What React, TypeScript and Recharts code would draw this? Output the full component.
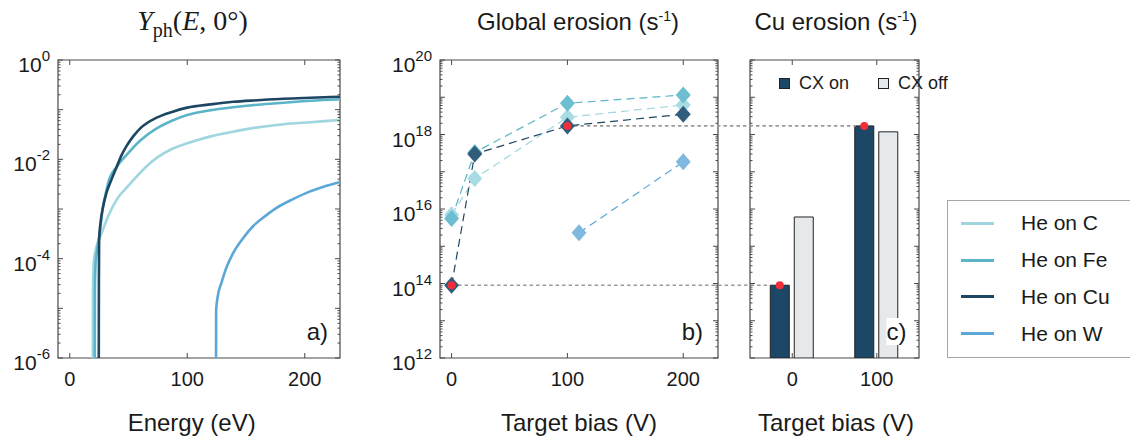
import React from 'react';
import {
  LineChart,
  Line,
  XAxis,
  YAxis,
  ReferenceArea,
  ReferenceLine,
  Legend,
  BarChart,
  Bar,
} from 'recharts';

const SANS = '"Liberation Sans", Arial, Helvetica, sans-serif';
const SERIF = '"Liberation Serif", "Times New Roman", serif';
const AXIS = '#4a4a4a';
const INK = '#1a1a1a';
const RED = '#ee2f38';
const LINK = '#9a9a9a';

// series
const seriesNames = ['He on C', 'He on Fe', 'He on Cu', 'He on W'];
const seriesColors = ['#9fd6e0', '#5cb4c9', '#1d4663', '#5aa7d8'];
const diamondColors = ['#a8dce5', '#6cbed0', '#2f5d7b', '#80b8e0'];

// a) Y_ph(E, 0°) vs energy (eV)
const yieldC = [
  { e: 19.6, y: 1e-6 }, { e: 19.8, y: 2.5e-5 }, { e: 20.5, y: 8.9e-5 }, { e: 22.7, y: 1.74e-4 },
  { e: 27, y: 3.2e-4 }, { e: 32.6, y: 7.1e-4 }, { e: 39.7, y: 1.51e-3 }, { e: 48, y: 2.63e-3 },
  { e: 55, y: 4.0e-3 }, { e: 65, y: 7.1e-3 }, { e: 74, y: 1.07e-2 }, { e: 86, y: 1.58e-2 },
  { e: 100, y: 2.1e-2 }, { e: 120, y: 2.9e-2 }, { e: 139, y: 3.6e-2 }, { e: 160, y: 4.4e-2 },
  { e: 182, y: 5.1e-2 }, { e: 205, y: 5.6e-2 }, { e: 230, y: 6.2e-2 },
];
const yieldFe = [
  { e: 21.3, y: 1e-6 }, { e: 21.4, y: 2.5e-5 }, { e: 22, y: 7.9e-5 }, { e: 23.5, y: 1.58e-4 },
  { e: 25.5, y: 3.2e-4 }, { e: 28, y: 1e-3 }, { e: 30.5, y: 2.0e-3 }, { e: 33.5, y: 3.9e-3 },
  { e: 40, y: 7.1e-3 }, { e: 48, y: 1.2e-2 }, { e: 60, y: 2.4e-2 }, { e: 74, y: 4.2e-2 },
  { e: 87, y: 6.0e-2 }, { e: 100, y: 7.8e-2 }, { e: 120, y: 9.8e-2 }, { e: 139, y: 0.112 },
  { e: 160, y: 0.126 }, { e: 182, y: 0.138 }, { e: 205, y: 0.151 }, { e: 230, y: 0.162 },
];
const yieldCu = [
  { e: 24.7, y: 1e-6 }, { e: 24.8, y: 3.2e-5 }, { e: 25, y: 2.5e-4 }, { e: 26.1, y: 5.1e-4 },
  { e: 28.4, y: 1.12e-3 }, { e: 31.2, y: 2.1e-3 }, { e: 35.5, y: 3.9e-3 }, { e: 40, y: 7.1e-3 },
  { e: 44, y: 1.2e-2 }, { e: 48, y: 1.8e-2 }, { e: 54, y: 2.9e-2 }, { e: 60, y: 4.2e-2 },
  { e: 74, y: 6.9e-2 }, { e: 87, y: 9.0e-2 }, { e: 100, y: 0.11 }, { e: 120, y: 0.128 },
  { e: 139, y: 0.144 }, { e: 160, y: 0.155 }, { e: 182, y: 0.166 }, { e: 205, y: 0.174 },
  { e: 230, y: 0.182 },
];
const yieldW = [
  { e: 124.5, y: 1e-6 }, { e: 124.6, y: 9.3e-6 }, { e: 126, y: 1.78e-5 }, { e: 129, y: 3.2e-5 },
  { e: 133, y: 6.3e-5 }, { e: 139, y: 1.29e-4 }, { e: 147, y: 2.5e-4 }, { e: 156, y: 4.5e-4 },
  { e: 166, y: 7.1e-4 }, { e: 176, y: 1.05e-3 }, { e: 190, y: 1.58e-3 }, { e: 204, y: 2.24e-3 },
  { e: 216, y: 2.8e-3 }, { e: 230, y: 3.5e-3 },
];
const yieldSeries = [yieldC, yieldFe, yieldCu, yieldW];

// b) global erosion (s^-1) vs target bias (V)
const biasC = [{ v: 0, y: 7e15 }, { v: 20, y: 6.6e16 }, { v: 100, y: 2.9e18 }, { v: 200, y: 6.2e18 }];
const biasFe = [{ v: 0, y: 5.6e15 }, { v: 20, y: 3.3e17 }, { v: 100, y: 6.9e18 }, { v: 200, y: 1.15e19 }];
const biasCu = [{ v: 0, y: 9e13 }, { v: 20, y: 3.0e17 }, { v: 100, y: 1.7e18 }, { v: 200, y: 3.5e18 }];
const biasW = [{ v: 110, y: 2.3e15 }, { v: 200, y: 1.85e17 }];
const biasSeries = [biasC, biasFe, biasCu, biasW];

// c) Cu erosion (s^-1), CX on / off
const cuCats = ['0', '100'];
const cxOn = [9e13, 1.7e18];
const cxOff = [6.1e15, 1.18e18];
const cxNames = ['CX on', 'CX off'];
const cxColors = ['#1d4766', '#e5e9eb'];
const cuData = cuCats.map((b, i) => ({ bias: b, on: cxOn[i], off: cxOff[i] }));

// highlighted Cu points (b) and where the dotted link ends (bias units, beyond panel b)
const highlightIdx = [0, 2];
const highlightPts = highlightIdx.map((k) => biasCu[k]);
const linkEnd = [275, 349];

// axes
const energyTicks = [0, 100, 200];
const biasTicks = [0, 100, 200];
const mantissas = [1, 2, 3, 4, 5, 6, 7, 8, 9];
const decadesA = [-6, -5, -4, -3, -2, -1];
const decadesB = [12, 13, 14, 15, 16, 17, 18, 19];
const labelExpA = [-6, -4, -2, 0];
const labelExpB = [12, 14, 16, 18, 20];
const yTicksA = [...decadesA.flatMap((d) => mantissas.map((m) => m * Math.pow(10, d))), 1];
const yTicksB = [...decadesB.flatMap((d) => mantissas.map((m) => m * Math.pow(10, d))), 1e20];

function LogTick(props: any) {
  const { x, y, payload, plotW, labeled } = props;
  const v = Number(payload?.value);
  if (!(v > 0)) return <g />;
  const lg = Math.log10(v);
  const exp = Math.round(lg);
  const decade = Math.abs(lg - exp) < 1e-6;
  const len = decade ? 5 : 2.5;
  const show = decade && labeled.includes(exp);
  return (
    <g>
      <line x1={x} y1={y} x2={x + len} y2={y} stroke={AXIS} strokeWidth={1} />
      <line x1={x + plotW} y1={y} x2={x + plotW - len} y2={y} stroke={AXIS} strokeWidth={1} />
      {show && (
        <text x={x - 8} y={y + 12} textAnchor="end" fontFamily={SANS} fill={INK}>
          <tspan fontSize={21}>10</tspan>
          <tspan fontSize={15} dy={-11}>
            {String(exp)}
          </tspan>
        </text>
      )}
    </g>
  );
}

function BottomTick(props: any) {
  const { x, y, payload, plotH } = props;
  return (
    <g>
      <line x1={x} y1={y} x2={x} y2={y - 5} stroke={AXIS} strokeWidth={1} />
      <line x1={x} y1={y - plotH} x2={x} y2={y - plotH + 5} stroke={AXIS} strokeWidth={1} />
      <text x={x} y={y + 28} textAnchor="middle" fontSize={20} fontFamily={SANS} fill={INK}>
        {payload.value}
      </text>
    </g>
  );
}

const diamond = (fill: string) => (p: any) => {
  const { cx, cy, index } = p;
  if (cx == null || cy == null) return <g key={`d-${index}`} />;
  return (
    <path
      key={`d-${index}-${cx}`}
      d={`M${cx},${cy - 8.5} L${cx + 7.5},${cy} L${cx},${cy + 8.5} L${cx - 7.5},${cy} Z`}
      fill={fill}
    />
  );
};

const redDot = (p: any) => {
  const { cx, cy, index } = p;
  if (cx == null || cy == null) return <g key={`r-${index}`} />;
  return <circle key={`r-${index}`} cx={cx} cy={cy} r={4} fill={RED} />;
};

function SeriesLegend() {
  return (
    <div
      style={{
        width: 200,
        height: 158,
        border: '1px solid #a6a6a6',
        background: '#fff',
        boxSizing: 'border-box',
        paddingTop: 4,
      }}
    >
      {seriesNames.map((n, i) => (
        <div key={n} style={{ display: 'flex', alignItems: 'center', height: 36.8 }}>
          <span style={{ marginLeft: 13, width: 33, height: 3, background: seriesColors[i], display: 'inline-block' }} />
          <span style={{ marginLeft: 27, fontFamily: SANS, fontSize: 21, color: INK, whiteSpace: 'nowrap' }}>{n}</span>
        </div>
      ))}
    </div>
  );
}

function CxLegend() {
  return (
    <div style={{ display: 'flex', fontFamily: SANS, fontSize: 18, color: INK, lineHeight: '20px', whiteSpace: 'nowrap' }}>
      {cxNames.map((n, i) => (
        <div key={n} style={{ display: 'flex', alignItems: 'center', width: i === 0 ? 99 : 'auto' }}>
          <span
            style={{
              width: 9,
              height: 9,
              border: '1px solid #222',
              background: cxColors[i],
              marginRight: 9,
              display: 'inline-block',
            }}
          />
          <span>{n}</span>
        </div>
      ))}
    </div>
  );
}

const boxProps = { fill: 'none', fillOpacity: 0, stroke: AXIS, strokeWidth: 1.2 };

export default function App() {
  return (
    <div style={{ position: 'absolute', left: 0, top: 0, width: 1130, height: 445, overflow: 'hidden', background: '#fff' }}>
      {/* a) */}
      <div style={{ position: 'absolute', left: 0, top: 0 }}>
        <LineChart width={350} height={445} margin={{ top: 60, right: 10, bottom: 0, left: 0 }}>
          <XAxis
            type="number"
            dataKey="e"
            domain={[-10, 230]}
            allowDataOverflow
            ticks={energyTicks}
            interval={0}
            height={87}
            tickSize={0}
            tickMargin={0}
            tickLine={false}
            axisLine={false}
            tick={<BottomTick plotH={298} />}
          />
          <YAxis
            type="number"
            scale="log"
            domain={[1e-6, 1]}
            allowDataOverflow
            ticks={yTicksA}
            interval={0}
            width={58}
            tickSize={0}
            tickMargin={0}
            tickLine={false}
            axisLine={false}
            tick={<LogTick plotW={282} labeled={labelExpA} />}
          />
          <ReferenceArea x1={-10} x2={230} y1={1e-6} y2={1} {...boxProps} />
          {yieldSeries.map((d, i) => (
            <Line
              key={seriesNames[i]}
              data={d}
              dataKey="y"
              name={seriesNames[i]}
              type="monotoneX"
              stroke={seriesColors[i]}
              strokeWidth={2.6}
              dot={false}
              activeDot={false}
              isAnimationActive={false}
            />
          ))}
        </LineChart>
      </div>

      {/* c) */}
      <div style={{ position: 'absolute', left: 690, top: 0 }}>
        <BarChart
          width={260}
          height={445}
          data={cuData}
          margin={{ top: 60, right: 31, bottom: 0, left: 0 }}
          barCategoryGap="24%"
          barGap={5}
        >
          <XAxis
            dataKey="bias"
            type="category"
            height={87}
            interval={0}
            tickSize={0}
            tickMargin={0}
            tickLine={false}
            axisLine={false}
            tick={<BottomTick plotH={298} />}
          />
          <YAxis
            type="number"
            scale="log"
            domain={[1e12, 1e20]}
            allowDataOverflow
            ticks={yTicksB}
            interval={0}
            width={60}
            tickSize={0}
            tickMargin={0}
            tickLine={false}
            axisLine={false}
            tick={<LogTick plotW={169} labeled={[]} />}
          />
          <ReferenceArea x1="0" x2="100" y1={1e12} y2={1e20} {...boxProps} />
          <Bar
            dataKey="on"
            name={cxNames[0]}
            fill={cxColors[0]}
            stroke="#222"
            strokeWidth={1}
            isAnimationActive={false}
            label={(p: any) => <circle key={`r-${p.index}`} cx={p.x + p.width / 2} cy={p.y} r={4} fill={RED} />}
          />
          <Bar dataKey="off" name={cxNames[1]} fill={cxColors[1]} stroke="#222" strokeWidth={1} isAnimationActive={false} />
          <Legend
            layout="horizontal"
            align="center"
            verticalAlign="middle"
            wrapperStyle={{ position: 'absolute', left: 89, top: 73, width: 180, height: 20 }}
            content={() => <CxLegend />}
          />
        </BarChart>
      </div>

      {/* b) */}
      <div style={{ position: 'absolute', left: 380, top: 0 }}>
        <LineChart width={750} height={445} margin={{ top: 60, right: 412, bottom: 0, left: 0 }}>
          <XAxis
            type="number"
            dataKey="v"
            domain={[-10, 230]}
            allowDataOverflow
            ticks={biasTicks}
            interval={0}
            height={87}
            tickSize={0}
            tickMargin={0}
            tickLine={false}
            axisLine={false}
            tick={<BottomTick plotH={298} />}
          />
          <YAxis
            type="number"
            scale="log"
            domain={[1e12, 1e20]}
            allowDataOverflow
            ticks={yTicksB}
            interval={0}
            width={60}
            tickSize={0}
            tickMargin={0}
            tickLine={false}
            axisLine={false}
            tick={<LogTick plotW={278} labeled={labelExpB} />}
          />
          <ReferenceArea x1={-10} x2={230} y1={1e12} y2={1e20} {...boxProps} />
          {highlightIdx.map((k, i) => (
            <ReferenceLine
              key={`link-${k}`}
              segment={[
                { x: biasCu[k].v, y: biasCu[k].y },
                { x: linkEnd[i], y: biasCu[k].y },
              ]}
              stroke={LINK}
              strokeWidth={1.6}
              strokeDasharray="3.5 3"
              ifOverflow="visible"
            />
          ))}
          {biasSeries.map((d, i) => (
            <Line
              key={seriesNames[i]}
              data={d}
              dataKey="y"
              name={seriesNames[i]}
              type="linear"
              stroke={seriesColors[i]}
              strokeWidth={1.2}
              strokeDasharray="8 5"
              dot={diamond(diamondColors[i])}
              activeDot={false}
              isAnimationActive={false}
            />
          ))}
          <Line
            data={highlightPts}
            dataKey="y"
            name="highlight"
            legendType="none"
            stroke="none"
            dot={redDot}
            activeDot={false}
            isAnimationActive={false}
          />
          <Legend
            layout="vertical"
            align="center"
            verticalAlign="middle"
            wrapperStyle={{ position: 'absolute', left: 567, top: 200, width: 200, height: 158 }}
            content={() => <SeriesLegend />}
          />
        </LineChart>
      </div>

      {/* titles, axis titles, panel tags */}
      <svg width={1130} height={445} style={{ position: 'absolute', left: 0, top: 0, pointerEvents: 'none' }}>
        <text x={192.5} y={30} textAnchor="middle" fontFamily={SERIF} fontSize={28} fill={INK}>
          <tspan fontStyle="italic">Y</tspan>
          <tspan fontSize={20} dy={7}>ph</tspan>
          <tspan dy={-7}>(</tspan>
          <tspan fontStyle="italic">E</tspan>
          <tspan>, 0°)</tspan>
        </text>
        <text x={578} y={30} textAnchor="middle" fontFamily={SANS} fontSize={24} fill={INK}>
          <tspan>Global erosion (s</tspan>
          <tspan fontSize={14} dy={-9}>-1</tspan>
          <tspan dy={9}>)</tspan>
        </text>
        <text x={836} y={30} textAnchor="middle" fontFamily={SANS} fontSize={24} fill={INK}>
          <tspan>Cu erosion (s</tspan>
          <tspan fontSize={14} dy={-9}>-1</tspan>
          <tspan dy={9}>)</tspan>
        </text>
        <text x={191.7} y={431} textAnchor="middle" fontFamily={SANS} fontSize={24} fill={INK}>Energy (eV)</text>
        <text x={579} y={431} textAnchor="middle" fontFamily={SANS} fontSize={24} fill={INK}>Target bias (V)</text>
        <text x={836} y={431} textAnchor="middle" fontFamily={SANS} fontSize={24} fill={INK}>Target bias (V)</text>
        <text x={328} y={340} textAnchor="end" fontFamily={SANS} fontSize={24} fill={INK}>a)</text>
        <text x={703} y={340} textAnchor="end" fontFamily={SANS} fontSize={24} fill={INK}>b)</text>
        <rect x={886.5} y={318} width={20.5} height={27} fill="#fff" />
        <text x={906.5} y={340} textAnchor="end" fontFamily={SANS} fontSize={24} fill={INK}>c)</text>
      </svg>
    </div>
  );
}
